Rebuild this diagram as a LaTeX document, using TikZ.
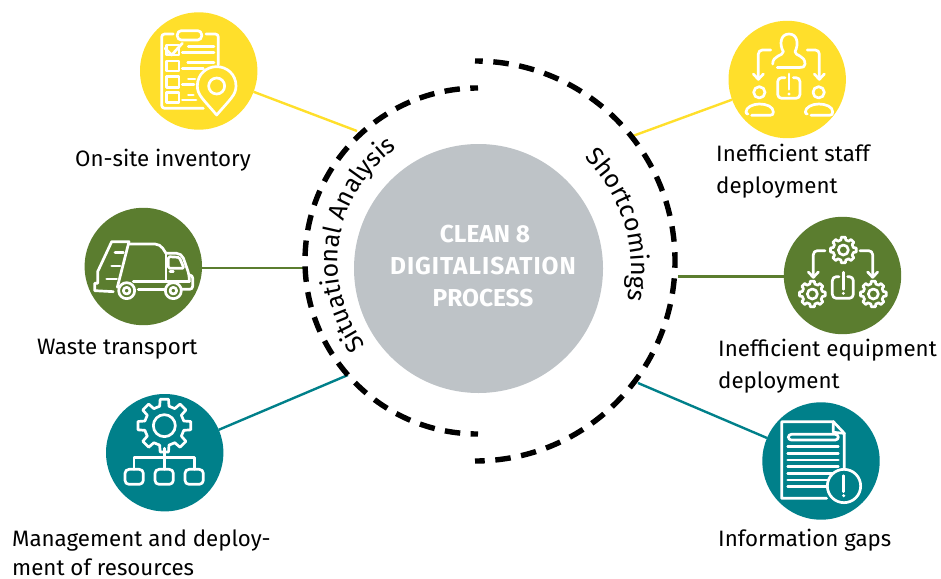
\documentclass[tikz,border=0pt]{standalone}
\usepackage{fontspec}
\setmainfont{Fira Sans}
\usetikzlibrary{decorations.text}
\definecolor{cyel}{HTML}{FFDF2B}
\definecolor{cgrn}{HTML}{5B7D2F}
\definecolor{ctea}{HTML}{00808A}
\definecolor{cgry}{HTML}{BEC3C7}
\newcommand{\gearglyph}[6]{% x y Router Rinner n color
  \pgfmathsetmacro{\gstep}{360/#5}
  \pgfmathsetmacro{\gw}{0.20*\gstep}
  \pgfmathsetmacro{\gv}{0.30*\gstep}
  \begin{scope}[shift={(#1,#2)}]
  \foreach \k in {1,...,#5}{
    \pgfmathsetmacro{\ga}{\k*\gstep}
    \draw[icon] (\ga-\gstep+\gv:#4) -- (\ga-\gv:#4) -- (\ga-\gw:#3) -- (\ga+\gw:#3) -- (\ga+\gv:#4);
  }
  \draw[icon] (0,0) circle[radius=#6];
  \end{scope}
}
\tikzset{
  icon/.style={draw=white,line width=2.7pt,line cap=round,line join=round},
  zoomed/.style={x=0.33333pt,y=-0.33333pt},
  disc/.style={circle,minimum size=117.4pt,inner sep=0pt,line width=0pt},
  lab/.style={anchor=base west,inner sep=0pt,font=\fontsize{22.3}{26}\selectfont,text=black},
  mid/.style={anchor=base,inner sep=0pt,text=white,font=\fontsize{24.5}{28}\fontseries{sb}\selectfont},
  conn/.style={line width=2.4pt},
  ring/.style={line width=5.4pt,black}
}
\begin{document}
\begin{tikzpicture}[x=1pt,y=-1pt]
\useasboundingbox (0,0) rectangle (941,578);
% arc ends of the connectors
\coordinate (a1) at (357,131);
\coordinate (a2) at (307,268);
\coordinate (a3) at (348,375);
\coordinate (a4) at (630,137);
\coordinate (a5) at (678,276.5);
\coordinate (a6) at (638,383);
% discs
\node[disc,fill=cyel] (d1) at (198.7,71) {};
\node[disc,fill=cgrn] (d2) at (143.3,266.5) {};
\node[disc,fill=ctea] (d3) at (164.7,452.7) {};
\node[disc,fill=cyel] (d4) at (787.2,79.5) {};
\node[disc,fill=cgrn] (d5) at (842.5,275.5) {};
\node[disc,fill=ctea] (d6) at (821,461) {};
% connectors
\draw[conn,cyel] (d1) -- (a1);
\draw[conn,cgrn] (d2.east |- a2) -- (a2);
\draw[conn,ctea] (d3) -- (a3);
\draw[conn,cyel] (d4) -- (a4);
\draw[conn,cgrn] (d5.west |- a5) -- (a5);
\draw[conn,ctea] (d6) -- (a6);
% rings
\draw[ring,dash pattern=on 15.5pt off 10.4pt,dash phase=7.75pt] (478,88) arc[start angle=270,end angle=90,radius=173];
\draw[ring,dash pattern=on 15.5pt off 10.6pt,dash phase=7.75pt] (475,61) arc[start angle=270,end angle=450,radius=200];
% centre
\node[circle,fill=cgry,minimum size=249pt,inner sep=0pt] (core) at (478.5,268.5) {};
\node[mid] (t1) at (485,242) {CLEAN 8};
\node[mid] (t2) at (483,274) {\addfontfeatures{LetterSpace=4}DIGITALISATION};
\node[mid] (t3) at (483,306.5) {PROCESS};
% curved labels
\path[decorate,decoration={text along path,text align=center,text={|\fontsize{25}{28}\selectfont|Situational Analysis}}]
  ([shift={(477,262)}]135:139) arc[start angle=135,end angle=243,radius=139];
\path[decorate,decoration={text along path,text align=center,text={|\fontsize{25}{28}\selectfont|Shortcomings}}]
  ([shift={(478,268)}]305:153) arc[start angle=305,end angle=381,radius=153];
% labels
\node[lab] (l1) at (75,166) {On-site inventory};
\node[lab] (l2) at (37,354) {Waste transport};
\node[lab] (l3a) at (12,546) {Management and deploy-};
\node[lab] (l3b) at (12,575.5) {ment of resources};
\node[lab] (l4a) at (716,161) {Inefficient staff};
\node[lab] (l4b) at (716,193) {deployment};
\node[lab] (l5a) at (718,356) {Inefficient equipment};
\node[lab] (l5b) at (718,388) {deployment};
\node[lab] (l6) at (718,546) {Information gaps};
% icon 1
\begin{scope}[shift={(120,0)},zoomed]
\draw[icon,rounded corners=3pt] (160,102) -- (125,102) -- (125,325) -- (250,325);
\draw[icon,rounded corners=3pt] (258,102) -- (295,102) -- (295,195);
\draw[icon,rounded corners=4pt] (172,92) rectangle (245,120);
\draw[icon] (140,135) rectangle (177,165);
\draw[icon] (135,145) -- (155,165) -- (187,130);
\draw[icon] (140,183) rectangle (177,213);
\draw[icon] (140,230) rectangle (177,262);
\draw[icon] (140,278) rectangle (177,308);
\foreach \xa/\xb/\yy in {205/282/140,187/282/157,203/282/188,187/250/205,205/225/237,187/222/253,205/220/285,187/228/300}
  \draw[icon] (\xa,\yy) -- (\xb,\yy);
\draw[icon,fill=cyel] (290,345) .. controls (250,298) and (232,285) .. (232,258) .. controls (232,222) and (260,200) .. (290,200) .. controls (320,200) and (348,222) .. (348,258) .. controls (348,285) and (330,298) .. (290,345) -- cycle;
\draw[icon] (290,258) circle[radius=24];
\end{scope}
% icon 2
\begin{scope}[shift={(70,200)},zoomed]
\draw[icon] (142,262) -- (177,125) -- (125,125) -- (83,215) -- (83,250) -- (74,250) -- (74,272) -- (130,275);
\draw[icon] (135,158) -- (160,158) (125,198) -- (150,198) (110,237) -- (140,237);
\draw[icon,rounded corners=5pt] (175,132) -- (270,132) -- (288,160);
\draw[icon] (288,160) -- (288,245);
\draw[icon,rounded corners=5pt] (288,160) -- (335,160) -- (358,225) -- (358,245);
\draw[icon,rounded corners=1.5pt] (295,170) -- (328,172) -- (342,205) -- (295,205) -- cycle;
\draw[icon] (300,215) -- (310,215);
\draw[icon] (190,245) -- (358,245);
\draw[icon] (205,268) -- (285,268);
\draw[icon,rounded corners=3pt] (358,225) -- (368,225) -- (368,268) -- (335,268);
\foreach \cx in {170,310}{
  \draw[icon,fill=cgrn] (\cx,272) circle[radius=24];
  \draw[icon] (\cx,272) circle[radius=10];
}
\end{scope}
% icon 3
\begin{scope}[shift={(95,385)},zoomed]
\gearglyph{208}{122}{80}{60}{8}{33}
\draw[icon] (208,190) -- (208,253) (117,253) -- (117,218) -- (298,218) -- (298,253);
\draw[icon,rounded corners=4pt] (90,253) rectangle (145,298);
\draw[icon,rounded corners=4pt] (180,253) rectangle (235,298);
\draw[icon,rounded corners=4pt] (270,253) rectangle (325,298);
\end{scope}
% icon 4
\begin{scope}[shift={(720,10)},zoomed]
\draw[icon] (190,125) .. controls (178,105) and (180,72) .. (207,72) .. controls (234,72) and (236,105) .. (225,125) .. controls (225,138) and (255,135) .. (255,162) .. controls (255,170) and (250,172) .. (240,172);
\draw[icon] (190,125) .. controls (190,138) and (158,135) .. (158,162);
\draw[icon] (172,172) -- (240,172);
\draw[icon,rounded corners=4pt] (152,120) -- (115,120) -- (115,207);
\draw[icon] (100,192) -- (115,208) -- (130,192);
\draw[icon,rounded corners=4pt] (262,120) -- (298,120) -- (298,207);
\draw[icon] (283,192) -- (298,208) -- (313,192);
\draw[icon,rounded corners=4pt] (195,203) -- (173,203) -- (173,265) -- (240,265) -- (240,203) -- (220,203);
\draw[icon] (207,192) -- (207,238);
\fill[white] (207,252) circle[radius=5];
\foreach \dx in {0,178}{
  \begin{scope}[xshift=\dx*0.33333pt]
  \draw[icon] (118,247) circle[radius=17];
  \draw[icon] (95,316) -- (150,316) .. controls (158,316) and (160,312) .. (160,306) .. controls (160,290) and (140,282) .. (118,282) .. controls (98,282) and (78,292) .. (78,306) .. controls (78,310) and (80,312) .. (84,312);
  \end{scope}
}
\end{scope}
% icon 5
\begin{scope}[shift={(775,210)},zoomed]
\gearglyph{205}{120}{39}{31}{8}{15}
\gearglyph{112}{252}{39}{31}{8}{15}
\gearglyph{295}{252}{39}{31}{8}{15}
\draw[icon,rounded corners=4pt] (150,122) -- (115,122) -- (115,200);
\draw[icon] (100,186) -- (115,202) -- (130,186);
\draw[icon,rounded corners=4pt] (255,122) -- (293,122) -- (293,200);
\draw[icon] (278,186) -- (293,202) -- (308,186);
\draw[icon,rounded corners=4pt] (192,200) -- (172,200) -- (172,265) -- (235,265) -- (235,200) -- (218,200);
\draw[icon] (205,187) -- (205,238);
\fill[white] (205,250) circle[radius=5];
\end{scope}
% icon 6
\begin{scope}[shift={(755,395)},zoomed]
\draw[icon] (215,310) -- (80,310) -- (80,80) -- (235,80) -- (268,115) -- (268,230);
\draw[icon] (235,80) -- (235,112) -- (268,115);
\draw[icon,rounded corners=3pt] (100,118) rectangle (250,135);
\foreach \yy in {155,175,195,215,235}
  \draw[icon] (98,\yy) -- (250,\yy);
\draw[icon] (98,255) -- (230,255) (98,275) -- (215,275);
\draw[icon,fill=ctea] (267,273) circle[radius=50];
\draw[icon] (266,242) -- (266,290);
\fill[white] (266,302) circle[radius=5];
\end{scope}
\end{tikzpicture}
\end{document}
